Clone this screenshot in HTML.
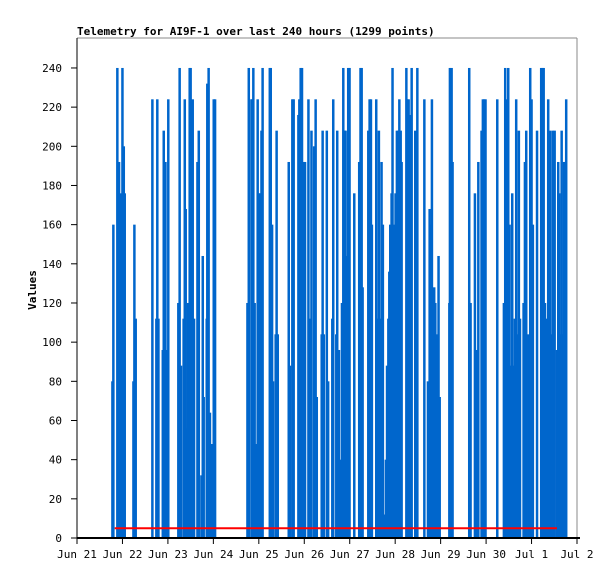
<!DOCTYPE html>
<html><head><meta charset="utf-8"><style>
html,body{margin:0;padding:0;background:#fff;width:615px;height:579px;overflow:hidden}
svg text{font-family:"DejaVu Sans Mono","Liberation Mono",monospace;font-size:11px;fill:#000}
</style></head><body>
<svg id="chart" width="615" height="579" xmlns="http://www.w3.org/2000/svg">
<rect x="0" y="0" width="615" height="579" fill="#fff"/>
<text x="77" y="35" font-weight="bold">Telemetry for AI9F-1 over last 240 hours (1299 points)</text>
<text x="36" y="290" font-weight="bold" text-anchor="middle" transform="rotate(-90 36 290)">Values</text>
<g id="bars"></g>
<g id="ref"></g>
<g id="axes"></g>
</svg>
<script>
const hours = [18.7,19.2,21.3,22.2,22.9,23.3,24.0,24.7,25.2,29.8,30.3,31.0,39.8,41.9,42.4,43.0,45.3,45.8,46.7,47.5,48.2,53.5,54.2,54.9,56.3,56.9,57.4,57.8,58.6,59.5,60.0,61.1,61.8,63.6,64.3,65.7,66.4,66.9,68.5,68.8,69.5,70.2,70.8,71.3,72.2,72.9,90.0,90.7,92.1,92.6,93.1,93.8,94.5,95.4,96.1,96.8,97.4,98.0,101.8,102.3,103.0,103.5,104.9,105.4,106.0,111.8,112.5,113.7,114.4,116.9,117.4,118.1,118.8,119.5,120.4,122.2,122.9,123.8,125.2,126.0,126.6,129.2,129.7,130.3,131.9,132.6,134.8,135.3,136.9,137.4,138.3,139.2,139.9,140.6,141.3,141.8,142.5,143.2,143.9,146.4,149.0,149.7,150.3,150.8,153.8,154.5,155.2,155.7,158.0,158.7,159.4,160.1,160.8,161.5,162.6,163.1,163.7,164.4,164.9,165.4,166.1,166.6,167.3,168.2,168.9,169.6,170.2,170.9,171.4,173.9,174.4,175.1,175.6,176.1,176.7,178.6,179.7,183.4,185.3,186.2,186.7,187.4,188.6,189.2,189.7,190.2,190.9,191.5,196.6,196.9,197.8,198.3,207.1,207.8,210.1,210.8,211.9,213.6,214.3,215.0,215.7,221.9,225.4,226.1,226.8,227.7,228.4,229.1,229.8,230.5,231.2,231.9,232.6,233.3,233.9,235.8,236.5,237.2,238.5,239.3,240.0,240.7,242.9,245.1,245.8,246.4,247.1,248.1,248.8,249.9,250.8,251.3,252.2,253.4,254.1,254.6,255.4,255.9,256.4,257.1,257.6,258.3];
const values = [80,160,240,192,80,176,240,200,176,80,160,112,224,112,224,112,96,208,192,96,224,120,240,88,112,224,168,56,120,240,240,224,112,192,208,32,144,72,112,232,240,64,16,48,224,224,120,240,224,224,240,120,48,224,176,176,208,240,240,240,160,80,104,208,104,192,88,224,224,216,224,240,240,192,192,224,112,208,200,224,72,104,208,104,208,80,112,224,104,208,96,40,120,240,208,208,144,240,240,176,192,240,240,128,208,224,224,160,224,112,208,112,192,160,12,40,88,112,136,160,176,240,160,176,208,208,224,208,192,240,224,224,216,192,240,208,240,224,80,168,160,224,128,120,88,104,144,72,120,240,240,192,240,120,176,96,192,208,224,224,224,224,120,240,224,240,160,88,176,88,112,224,104,208,112,120,192,208,104,240,224,160,208,240,240,240,120,112,224,208,104,208,208,96,192,176,104,208,104,192,192,224];
const refHours = [19.9, 253.4];
const refValues = [5, 5];
const yTicks = [0,20,40,60,80,100,120,140,160,180,200,220,240];
const xTickLabels = ["Jun 21","Jun 22","Jun 23","Jun 24","Jun 25","Jun 26","Jun 27","Jun 28","Jun 29","Jun 30","Jul 1","Jul 2"];

const L=77,R=577,T=38,B=538,YMAX=255.3,HSPAN=264;
const xs=h=>L+h/HSPAN*(R-L);
const ys=v=>B-v/YMAX*(B-T);
const NS="http://www.w3.org/2000/svg";
function mk(tag,attrs,parent){const e=document.createElementNS(NS,tag);for(const k in attrs)e.setAttribute(k,attrs[k]);parent.appendChild(e);return e;}
const bars=document.getElementById('bars'),ref=document.getElementById('ref'),axes=document.getElementById('axes');
for(let i=0;i<hours.length;i++){
  const x=xs(hours[i]),y=ys(values[i]);
  const r=mk('rect',{x:(x-1.25).toFixed(2),y:y.toFixed(2),width:2.5,height:(B-y).toFixed(2),fill:'#0066cc'},bars);
  
  
}
const pl=mk('polyline',{points:refHours.map((h,i)=>xs(h)+','+ys(refValues[i])).join(' '),fill:'none',stroke:'#ff0000','stroke-width':2},ref);


// frame
mk('line',{x1:L,y1:T,x2:R,y2:T,stroke:'#888','stroke-width':1},axes);
mk('line',{x1:R,y1:T,x2:R,y2:B,stroke:'#888','stroke-width':1},axes);
mk('line',{x1:L,y1:T,x2:L,y2:B,stroke:'#000','stroke-width':1},axes);
mk('line',{x1:L,y1:B,x2:R+3,y2:B,stroke:'#000','stroke-width':2},axes);
yTicks.forEach(v=>{
  const y=ys(v);
  mk('line',{x1:L-6,y1:y,x2:L,y2:y,stroke:'#000'},axes);
  const t=mk('text',{x:62,y:y+4,'text-anchor':'end'},axes);
  t.textContent=v;
  
  
});
xTickLabels.forEach((s,i)=>{
  const x=xs(i*24);
  mk('line',{x1:x,y1:B,x2:x,y2:B+6,stroke:'#000'},axes);
  const t=mk('text',{x:x,y:B+20,'text-anchor':'middle'},axes);
  t.textContent=s;
  
  
});
</script>
</body></html>
